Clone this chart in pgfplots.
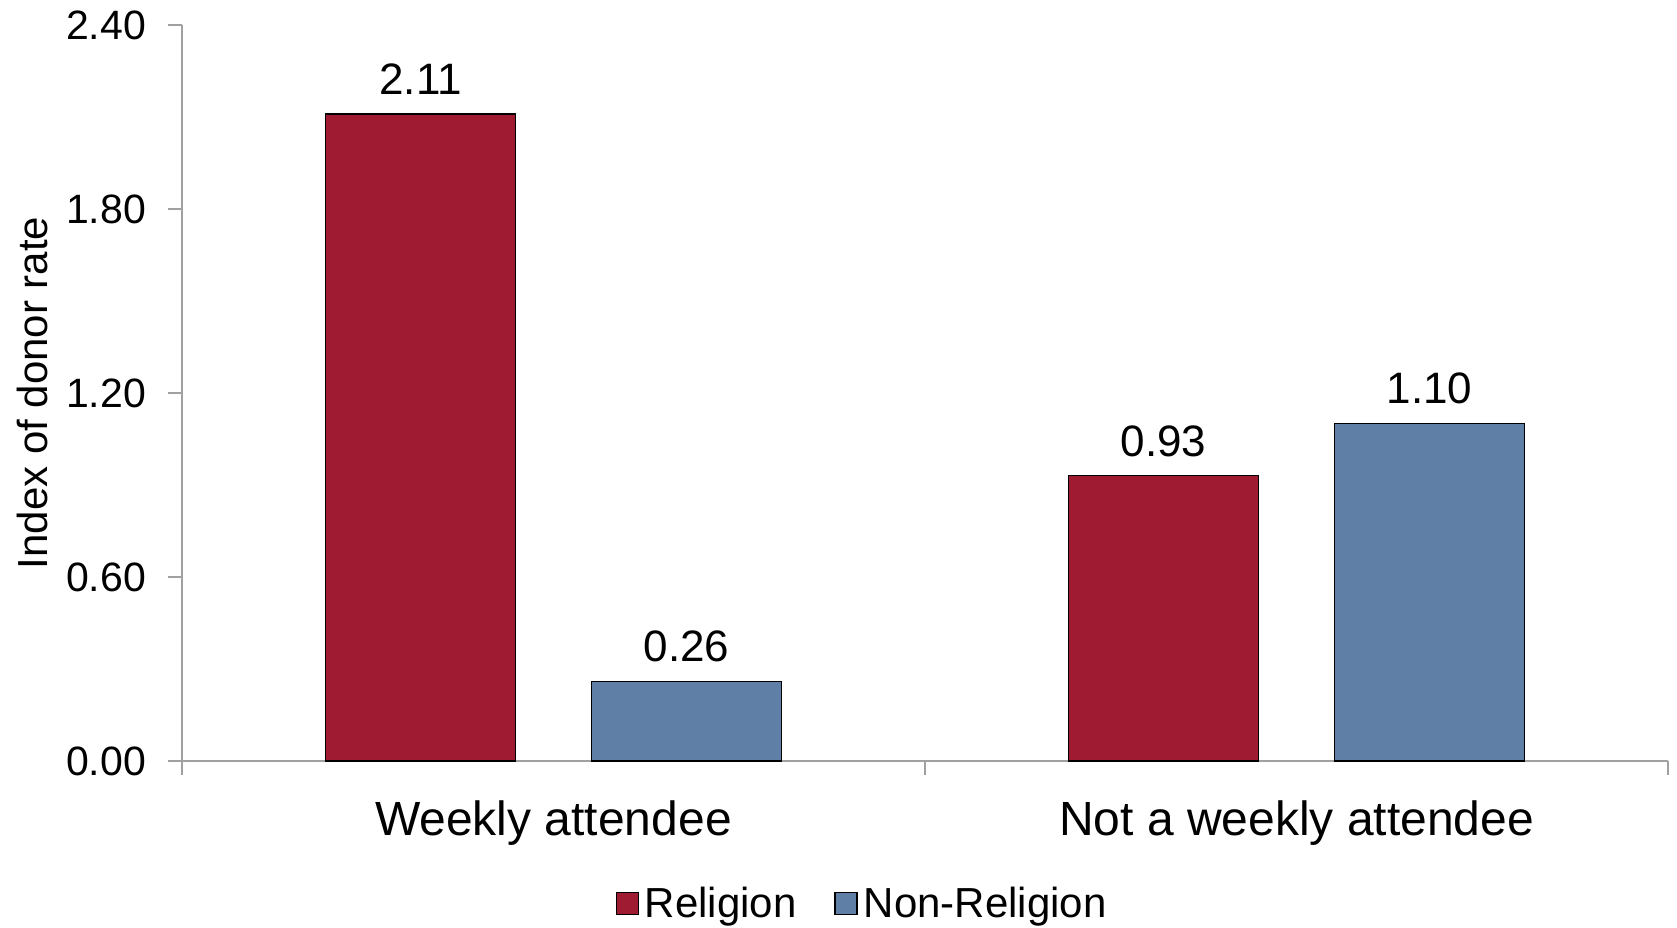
\documentclass[border=0pt]{standalone}
\usepackage{pgfplots}
\pgfplotsset{compat=1.18}
\usepackage{fontspec}
\setmainfont{Liberation Sans}
\definecolor{relred}{HTML}{9E1B32}
\definecolor{nonblue}{HTML}{5F7FA7}
\definecolor{axgray}{HTML}{A0A0A0}

\begin{document}
\begin{tikzpicture}[x=1pt,y=1pt]
    % invisible frame, keeps the page at the reference's size
    \path[use as bounding box] (-91,-83) rectangle (747.5,380.5);
    \begin{axis}[
        at={(0,0)}, anchor=south west,
        scale only axis,
        width=743pt, height=368pt,
        ybar=38pt, bar width=95pt,
        xmin=-0.5, xmax=1.5,
        ymin=0, ymax=2.4,
        ytick={0,0.6,1.2,1.8,2.4},
        /pgf/number format/fixed,
        /pgf/number format/fixed zerofill,
        /pgf/number format/precision=2,
        /pgf/number format/assume math mode=true,
        xtick={-0.5,0.5,1.5},
        xticklabels={},
        extra x ticks={0,1},
        extra x tick labels={Weekly attendee, Not a weekly attendee},
        extra x tick style={major tick length=0pt,
            xticklabel style={font=\fontsize{24}{28}\selectfont, yshift=-16.5pt}},
        axis x line*=bottom, axis y line*=left,
        axis line style={axgray, line width=0.8pt, -},
        tick align=outside,
        major tick length=7pt,
        tick style={axgray, line width=0.8pt},
        ticklabel style={font=\fontsize{20.5}{24}\selectfont},
        yticklabel style={xshift=-7.5pt},
        ylabel={Index of donor rate},
        every axis y label/.style={at={(axis description cs:0,0.5)}, rotate=90,
            anchor=center, yshift=75pt, font=\fontsize{21}{25}\selectfont},
        nodes near coords,
        nodes near coords style={font=\fontsize{22}{26}\selectfont, black, yshift=6pt},
        legend columns=2,
        legend style={at={(axis description cs:0.5,-0.194)}, anchor=center, draw=none,
            xshift=-31pt,
            font=\fontsize{21}{25}\selectfont,
            /tikz/every even column/.append style={column sep=17pt},
            /tikz/every odd column/.append style={column sep=1pt}},
        legend image code/.code={\draw[#1] (0pt,-5.5pt) rectangle (11pt,5.5pt);},
        clip=false,
    ]
    \addplot[fill=relred, draw=black, line width=0.6pt]
        coordinates {(0,2.11) (1,0.93)};
    \addplot[fill=nonblue, draw=black, line width=0.6pt]
        coordinates {(0,0.26) (1,1.10)};
    \legend{Religion, Non-Religion}
    \end{axis}
\end{tikzpicture}
\end{document}
